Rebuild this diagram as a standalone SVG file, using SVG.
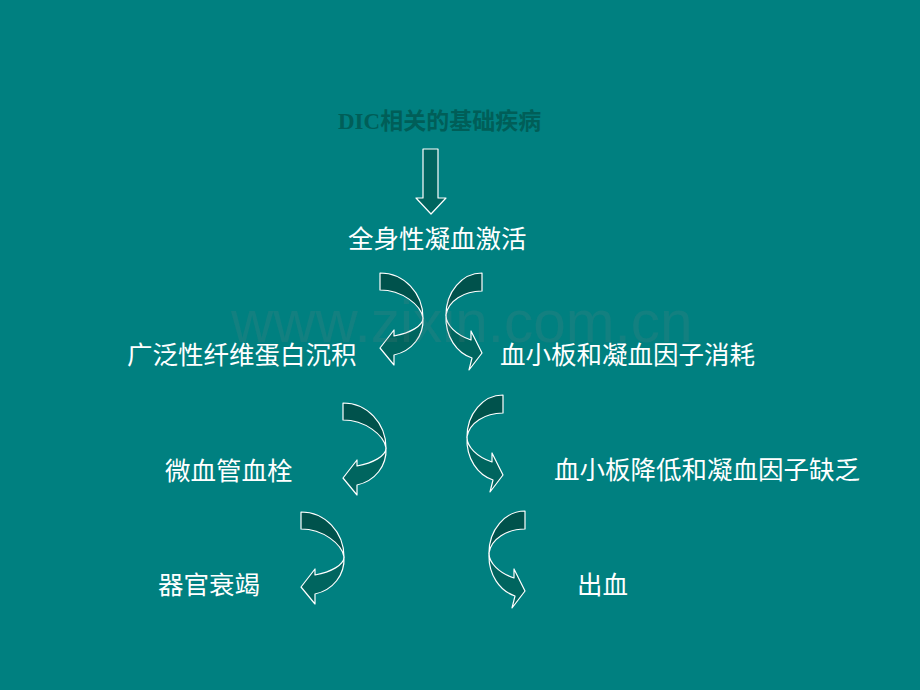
<svg xmlns="http://www.w3.org/2000/svg" xmlns:xlink="http://www.w3.org/1999/xlink" width="920" height="690" viewBox="0 0 920 690">
  <style>
    .lbl { font-family: "Noto Sans CJK SC", "Noto Sans", sans-serif; font-size: 25.5px; fill: #ffffff; }
    .title { font-family: "Liberation Serif", "Noto Sans CJK SC", serif; font-size: 23px; font-weight: bold; fill: #005e58; }
    .wm { font-family: "Liberation Sans", Arial, sans-serif; font-size: 58.5px; fill: #808080; fill-opacity: 0.15; }
    .dark { fill: #00524c; stroke: #ffffff; stroke-width: 1.2; stroke-linejoin: round; }
    .mid { fill: #00655f; stroke: #ffffff; stroke-width: 1.2; stroke-linejoin: round; }
  </style>
  <defs>
    <g id="curveL">
      <path class="mid" d="M43,45 C44,63 32,78 14,82 L14,92 L0,75 L14,57 L14,63 C30,60 43,53 43,45 Z"/>
      <path class="dark" d="M0,0 C24,0 43,20 43,45 C41,32 22,17 0,17 Z"/>
    </g>
    <g id="curveR">
      <path class="mid" d="M-36,42 C-37,64 -25,80 -10,85 L-13,97 L0,80 L-11,58 L-11,67 C-26,62 -36,52 -36,42 Z"/>
      <path class="dark" d="M0,0 C-20,0 -36,19 -36,42 C-34,28 -18,18 0,18 Z"/>
    </g>
  </defs>
  <rect x="0" y="0" width="920" height="690" fill="#008080"/>

  <g id="connectors">
    <polygon class="mid" points="423,149 438,149 438,198 446,198 431,214 416,198 423,198"/>
    <use xlink:href="#curveL" href="#curveL" transform="translate(380,273)"/>
    <use xlink:href="#curveR" href="#curveR" transform="translate(482,273)"/>
    <use xlink:href="#curveL" href="#curveL" transform="translate(343,403)"/>
    <use xlink:href="#curveR" href="#curveR" transform="translate(503,395)"/>
    <use xlink:href="#curveL" href="#curveL" transform="translate(301,512)"/>
    <use xlink:href="#curveR" href="#curveR" transform="translate(525,511)"/>
  </g>

  <text class="wm" x="231" y="342">www.zixin.com.cn</text>

  <g id="n-dic"><text class="title" x="338" y="129">DIC相关的基础疾病</text></g>
  <g id="n-activation"><text class="lbl" x="348" y="248">全身性凝血激活</text></g>
  <g id="n-fibrin"><text class="lbl" x="127" y="364">广泛性纤维蛋白沉积</text></g>
  <g id="n-consumption"><text class="lbl" x="500" y="364">血小板和凝血因子消耗</text></g>
  <g id="n-thrombus"><text class="lbl" x="165" y="480">微血管血栓</text></g>
  <g id="n-deficiency"><text class="lbl" x="554" y="479">血小板降低和凝血因子缺乏</text></g>
  <g id="n-organ"><text class="lbl" x="158" y="594">器官衰竭</text></g>
  <g id="n-bleeding"><text class="lbl" x="577" y="594">出血</text></g>
</svg>
